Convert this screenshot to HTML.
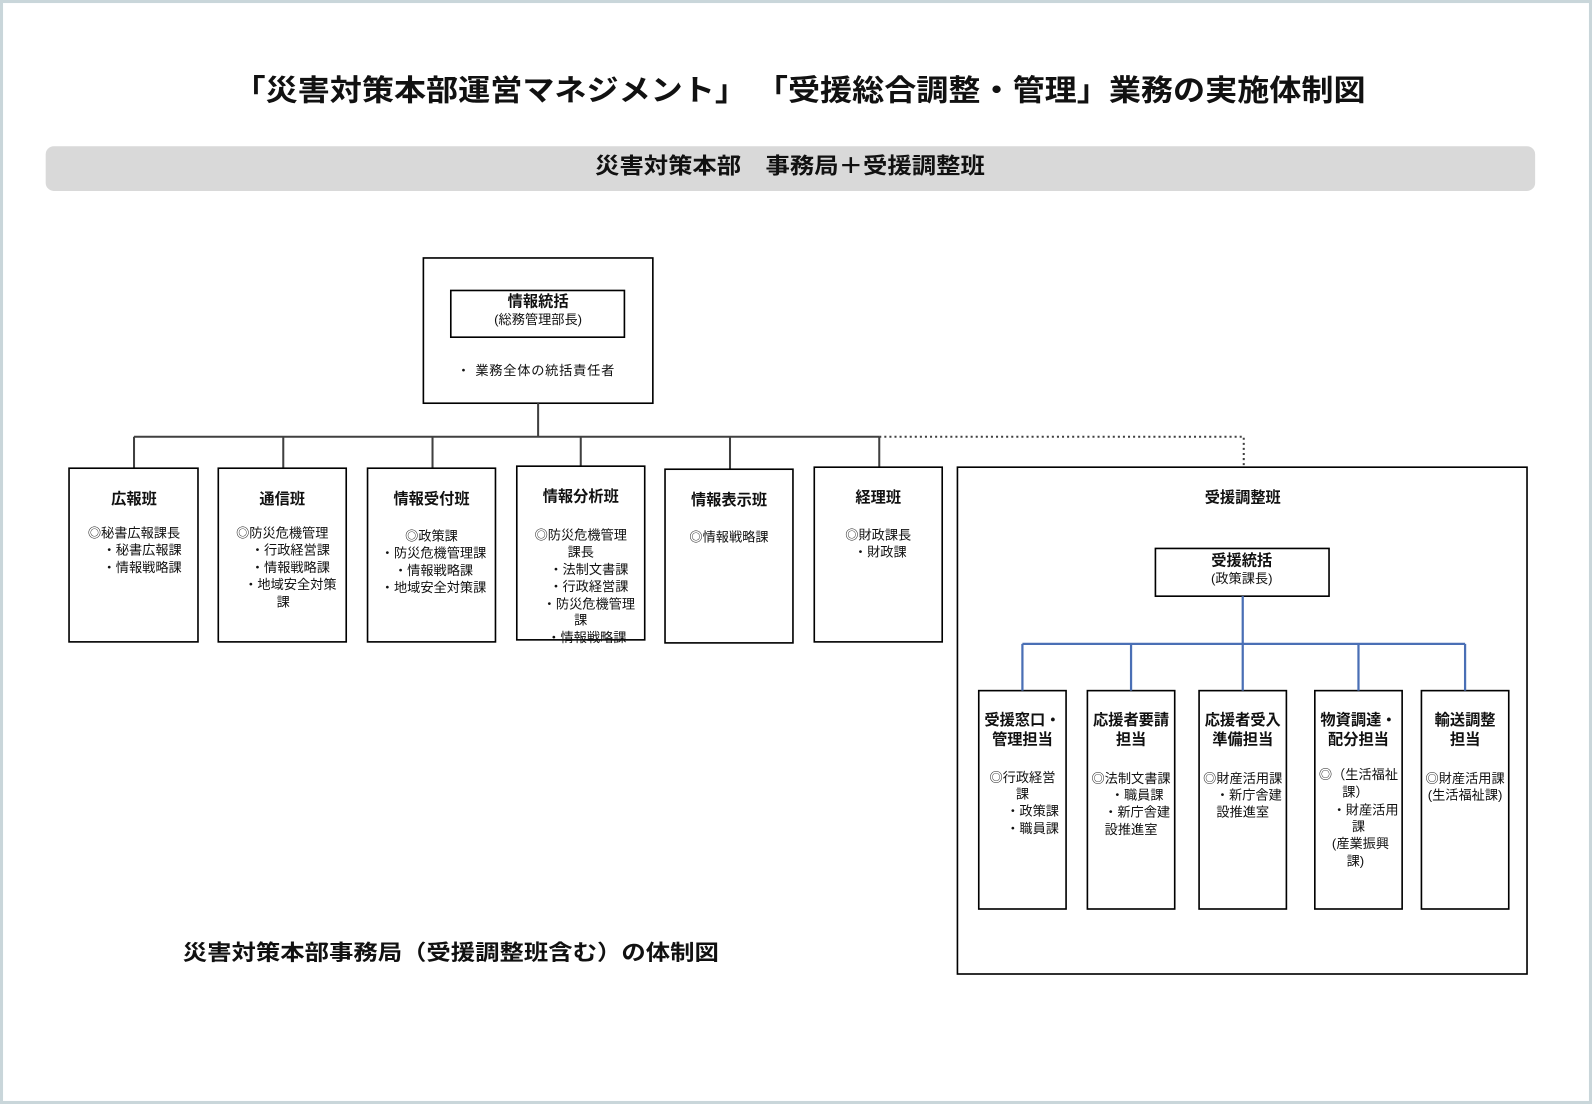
<!DOCTYPE html>
<html><head><meta charset="utf-8"><style>
html,body{margin:0;padding:0;background:#fff}
svg{display:block}
text{font-family:"Liberation Sans","Noto Sans CJK JP",sans-serif;fill:#111}
.b{font-weight:bold}
</style></head><body>
<svg width="1592" height="1104" viewBox="0 0 1568 1087" preserveAspectRatio="none" xmlns="http://www.w3.org/2000/svg">
<rect x="1.5" y="1.5" width="1565" height="1084" fill="#fff" stroke="#c9d6da" stroke-width="3"/>
<text x="230" y="99" class="b" font-size="29" textLength="1115" lengthAdjust="spacingAndGlyphs">「災害対策本部運営マネジメント」 「受援総合調整・管理」業務の実施体制図</text>
<rect x="45" y="144" width="1467" height="44" rx="8" fill="#d9d9d9"/>
<text x="586" y="171" class="b" font-size="22" textLength="384" lengthAdjust="spacingAndGlyphs">災害対策本部　事務局＋受援調整班</text>

<g fill="none" stroke="#000" stroke-width="1.6">
<rect x="417" y="254" width="226" height="143"/>
<rect x="444" y="286" width="171" height="46"/>
</g>
<text x="530" y="302" text-anchor="middle" class="b" font-size="15">情報統括</text>
<text x="530" y="319" text-anchor="middle" font-size="13">(総務管理部長)</text>
<text x="450" y="369" font-size="13" textLength="155">・ 業務全体の統括責任者</text>

<g fill="none" stroke="#404040" stroke-width="2">
<path d="M530 397V430M132 430H866M132 430V461M279 430V461M426 430V461M572 430V459M719 430V462M866 430V460"/>
</g>
<path d="M866 430H1225V461" fill="none" stroke="#404040" stroke-width="2" stroke-dasharray="2,3"/>

<g fill="none" stroke="#000" stroke-width="1.6">
<rect x="68" y="461" width="127" height="171"/>
<rect x="215" y="461" width="126" height="171"/>
<rect x="362" y="461" width="126" height="171"/>
<rect x="509" y="459" width="126" height="171"/>
<rect x="655" y="462" width="126" height="171"/>
<rect x="802" y="460" width="126" height="172"/>
<rect x="943" y="460" width="561" height="499"/>
<rect x="1138" y="540" width="171" height="47"/>
<rect x="964" y="680" width="86" height="215"/>
<rect x="1071" y="680" width="86" height="215"/>
<rect x="1181" y="680" width="86" height="215"/>
<rect x="1295" y="680" width="86" height="215"/>
<rect x="1400" y="680" width="86" height="215"/>
</g>

<g class="b" font-size="15" text-anchor="middle">
<text x="132" y="496">広報班</text>
<text x="278" y="496">通信班</text>
<text x="425" y="496">情報受付班</text>
<text x="572" y="494">情報分析班</text>
<text x="718" y="497">情報表示班</text>
<text x="865" y="495">経理班</text>
<text x="1224" y="495">受援調整班</text>
<text x="1223" y="557">受援統括</text>
<text x="1007" y="714">受援窓口・</text><text x="1007" y="733">管理担当</text>
<text x="1114" y="714">応援者要請</text><text x="1114" y="733">担当</text>
<text x="1224" y="714">応援者受入</text><text x="1224" y="733">準備担当</text>
<text x="1338" y="714">物資調達・</text><text x="1338" y="733">配分担当</text>
<text x="1443" y="714">輸送調整</text><text x="1443" y="733">担当</text>
</g>

<g font-size="13" text-anchor="middle">
<text x="132" y="529">◎秘書広報課長</text><text x="140" y="546">・秘書広報課</text><text x="140" y="563">・情報戦略課</text>
<text x="278" y="529">◎防災危機管理</text><text x="286" y="546">・行政経営課</text><text x="286" y="563">・情報戦略課</text><text x="286" y="580">・地域安全対策</text><text x="279" y="597">課</text>
<text x="425" y="532">◎政策課</text><text x="427" y="549">・防災危機管理課</text><text x="427" y="566">・情報戦略課</text><text x="427" y="583">・地域安全対策課</text>
<text x="572" y="531">◎防災危機管理</text><text x="572" y="548">課長</text><text x="580" y="565">・法制文書課</text><text x="580" y="582">・行政経営課</text><text x="580" y="599">・防災危機管理</text><text x="572" y="615">課</text><text x="578" y="632">・情報戦略課</text>
<text x="718" y="533">◎情報戦略課</text>
<text x="865" y="531">◎財政課長</text><text x="867" y="548">・財政課</text>
<text x="1223" y="574">(政策課長)</text>
<text x="1007" y="770">◎行政経営</text><text x="1007" y="786">課</text><text x="1017" y="803">・政策課</text><text x="1017" y="820">・職員課</text>
<text x="1114" y="771">◎法制文書課</text><text x="1120" y="787">・職員課</text><text x="1120" y="804">・新庁舎建</text><text x="1114" y="821">設推進室</text>
<text x="1224" y="771">◎財産活用課</text><text x="1230" y="787">・新庁舎建</text><text x="1224" y="804">設推進室</text>
<text x="1338" y="767">◎（生活福祉</text><text x="1335" y="784">課）</text><text x="1345" y="802">・財産活用</text><text x="1338" y="818">課</text><text x="1340" y="835">(産業振興</text><text x="1335" y="852">課)</text>
<text x="1443" y="771">◎財産活用課</text><text x="1443" y="787">(生活福祉課)</text>
</g>

<path d="M1224 587V634M1007 634H1443M1007 634V680M1114 634V680M1224 634V680M1338 634V680M1443 634V680" fill="none" stroke="#4a6fb5" stroke-width="2.2"/>

<text x="180" y="945" class="b" font-size="21" textLength="528" lengthAdjust="spacingAndGlyphs">災害対策本部事務局（受援調整班含む）の体制図</text>
</svg>
</body></html>
